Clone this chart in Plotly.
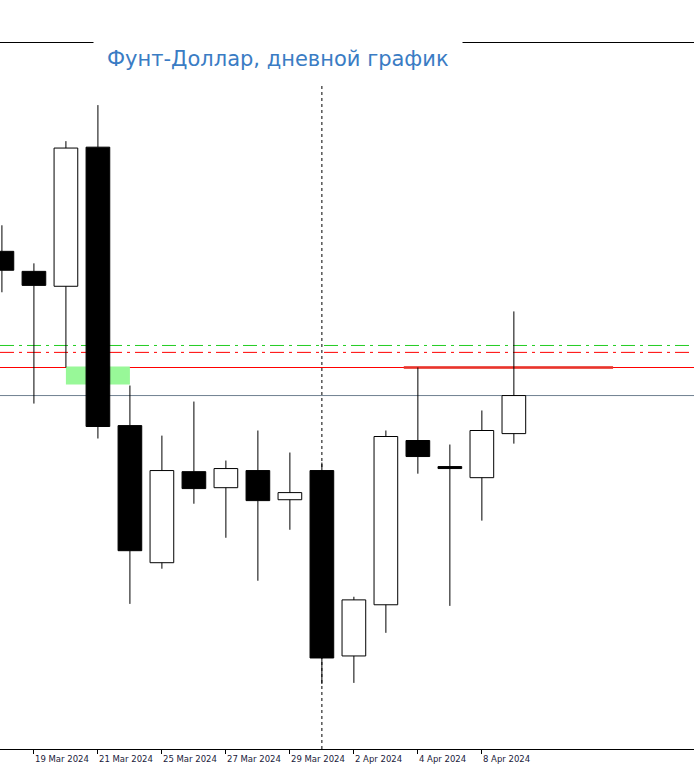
import plotly.graph_objects as go

dates = ["18 Mar", "19 Mar", "20 Mar", "21 Mar", "22 Mar", "25 Mar", "26 Mar", "27 Mar", "28 Mar",
         "29 Mar", "1 Apr", "2 Apr", "3 Apr", "4 Apr", "5 Apr", "8 Apr", "9 Apr"]
open_ = [1.27373, 1.27283, 1.27216, 1.27841, 1.26590, 1.25974, 1.26383, 1.26311, 1.26388,
         1.26257, 1.26388, 1.25555, 1.25785, 1.26523, 1.26406, 1.26356, 1.26554]
high_ = [1.27490, 1.27319, 1.27868, 1.28030, 1.26770, 1.26545, 1.26698, 1.26433, 1.26568,
         1.26469, 1.26424, 1.25821, 1.26568, 1.26851, 1.26505, 1.26658, 1.27103]
low_ = [1.27189, 1.26689, 1.26851, 1.26532, 1.25789, 1.25947, 1.26239, 1.26086, 1.25893,
        1.26122, 1.25429, 1.25434, 1.25659, 1.26374, 1.25780, 1.26163, 1.26509]
close_ = [1.27288, 1.27220, 1.27837, 1.26586, 1.26028, 1.26388, 1.26307, 1.26397, 1.26253,
          1.26289, 1.25546, 1.25807, 1.26541, 1.26451, 1.26397, 1.26568, 1.26725]
tick_labels = ["18 Mar 2024", "19 Mar 2024", "21 Mar 2024", "25 Mar 2024", "27 Mar 2024",
               "29 Mar 2024", "2 Apr 2024", "4 Apr 2024", "8 Apr 2024"]
tick_idx = [-1, 1, 3, 5, 7, 9, 11, 13, 15]

x = list(range(len(dates)))

fig = go.Figure()

base = [min(o, c) for o, c in zip(open_, close_)]
top = [max(o, c) for o, c in zip(open_, close_)]
height = [max(t - b, 0.00008) for t, b in zip(top, base)]
colors = ["white" if c > o else "black" for o, c in zip(open_, close_)]

# wicks: upper and lower parts, so they don't cross white bodies
wx, wy = [], []
for i in x:
    wx += [i, i, None, i, i, None]
    wy += [top[i], high_[i], None, low_[i], base[i], None]
fig.add_trace(go.Scatter(x=wx, y=wy, mode="lines", line=dict(color="black", width=1),
                         showlegend=False, hoverinfo="skip"))

fig.add_trace(go.Bar(x=x, y=height, base=base, width=0.74,
                     marker=dict(color=colors, line=dict(color="black", width=1)),
                     showlegend=False, hoverinfo="skip"))

level_main = 1.26851
level_low = 1.26725
dashdot = "14px,5px,3px,5px"
fig.add_shape(type="rect", x0=2.0, x1=4.0, y0=1.26775, y1=1.26856,
              fillcolor="#98F898", line=dict(width=0), layer="below")
fig.add_hline(y=level_main, line=dict(color="red", width=1), layer="below")
fig.add_hline(y=level_low, line=dict(color="#708090", width=1), layer="below")
fig.add_hline(y=1.26950, line=dict(color="#22cc22", width=1, dash=dashdot), layer="below")
fig.add_hline(y=1.26919, line=dict(color="red", width=1, dash=dashdot), layer="below")
fig.add_shape(type="line", x0=12.56, x1=19.1, y0=level_main, y1=level_main,
              line=dict(color="rgba(232,60,50,0.85)", width=3), layer="below")
fig.add_vline(x=10, line=dict(color="black", width=1, dash="dot"))

for i, t in zip(tick_idx, tick_labels):
    fig.add_annotation(x=i, y=0, yref="paper", text=t, showarrow=False,
                       xanchor="left", yanchor="top", yshift=-3, xshift=-1,
                       font=dict(family="DejaVu Sans", size=8.5, color="#1a1a3a"))

fig.add_annotation(x=0.40, y=1, xref="paper", yref="paper", text="Фунт-Доллар, дневной график",
                   showarrow=False, yanchor="middle", xanchor="center", yshift=-16,
                   bgcolor="white", borderpad=13,
                   font=dict(family="DejaVu Sans", size=21, color="#3a7cc4"))

fig.update_layout(
    width=694, height=773, margin=dict(l=0, r=0, t=43, b=24, autoexpand=False),
    paper_bgcolor="white", plot_bgcolor="white", barmode="overlay",
    xaxis=dict(range=[-0.06, 21.63], showgrid=False, zeroline=False,
               tickvals=tick_idx, ticktext=[""] * len(tick_idx), ticks="outside", ticklen=4,
               tickcolor="black", showline=True, linecolor="black", mirror=True),
    yaxis=dict(range=[1.25137, 1.28309], showgrid=False, zeroline=False, showticklabels=False,
               showline=False),
)
fig.write_html("out.html", config={"displayModeBar": False},
               post_script="document.body.style.margin='0';")
